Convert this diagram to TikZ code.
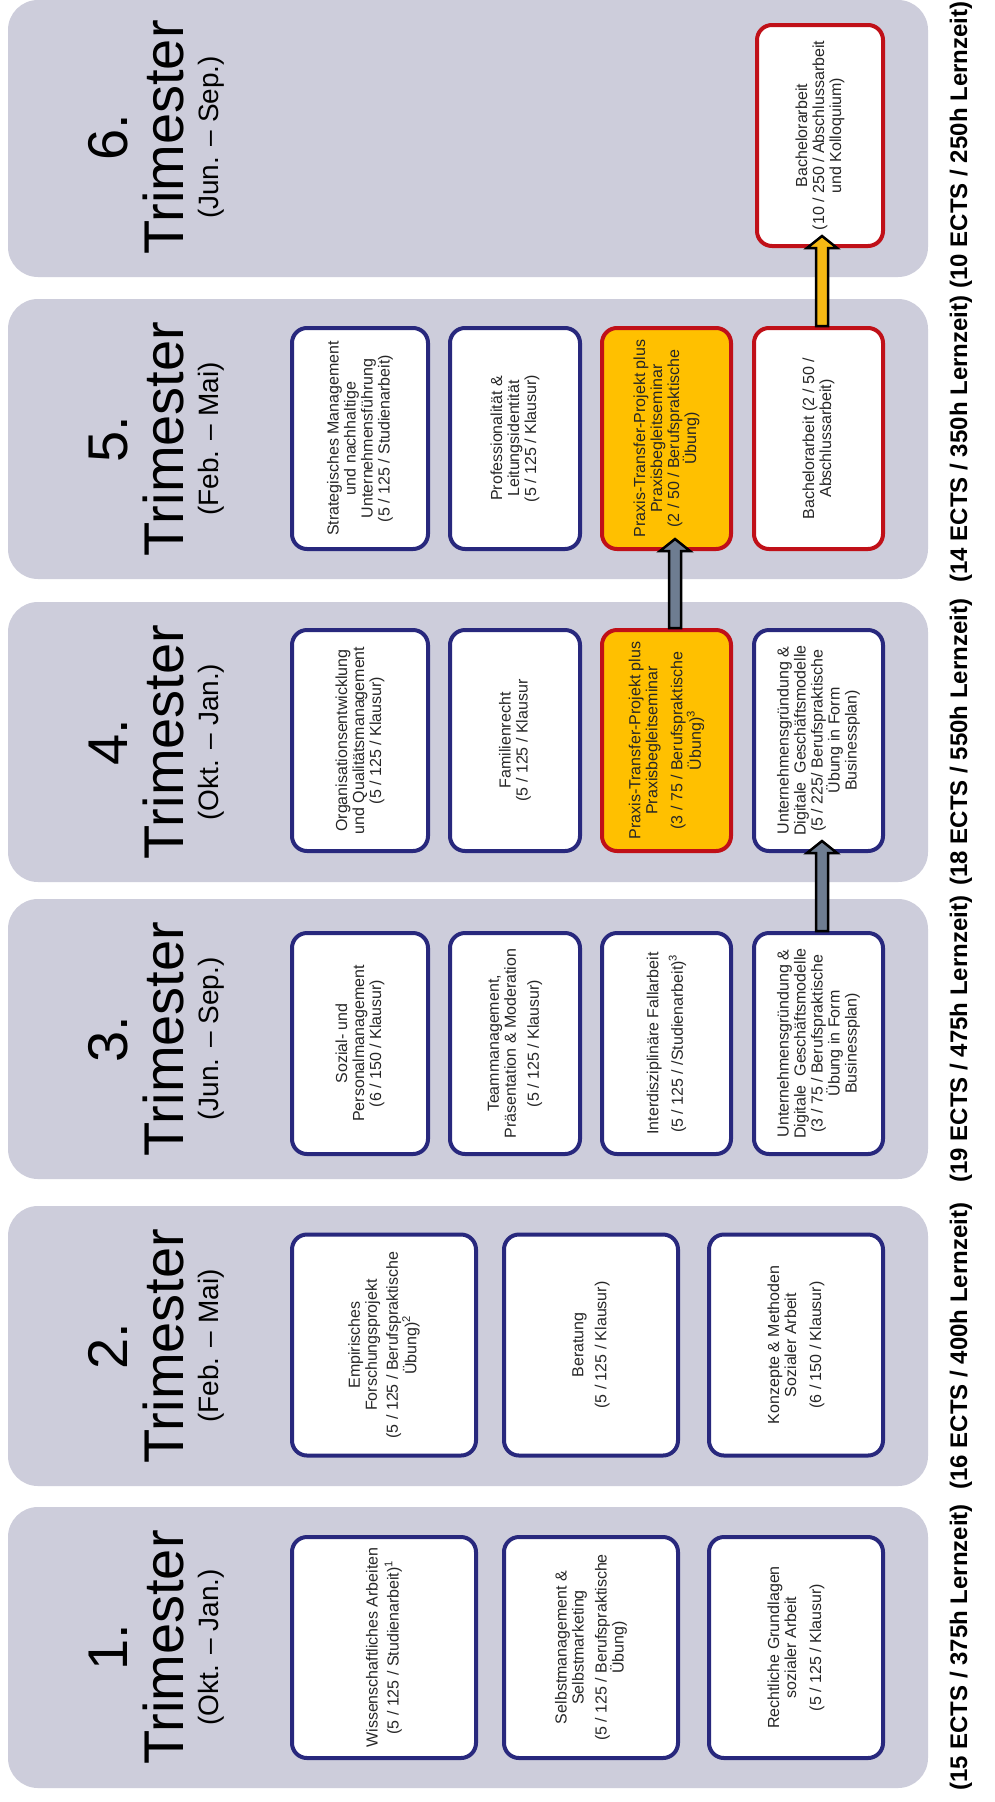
\documentclass[tikz,border=0pt]{standalone}
\usepackage{fontspec}
\setmainfont{Liberation Sans}
\usetikzlibrary{calc}
\definecolor{bandgray}{RGB}{205,205,219}
\definecolor{navy}{RGB}{40,40,125}
\definecolor{redb}{RGB}{192,16,24}
\definecolor{gold}{RGB}{255,192,0}
\definecolor{slate}{RGB}{110,125,145}
\definecolor{arrowgold}{RGB}{245,185,20}
\newcommand{\fatarrow}[4]{%
  \draw[line width=2.5pt, fill=#4, line join=miter]
    ($(#2.south |- #1.north)+(#3-6,0)$) -- ($(#2.south)+(#3-6,0)$) -- ($(#2.south)+(#3-15,0)$)
    -- ($(#2.south)+(#3,-12)$) -- ($(#2.south)+(#3+15,0)$) -- ($(#2.south)+(#3+6,0)$)
    -- ($(#2.south |- #1.north)+(#3+6,0)$) -- cycle;}
\begin{document}
\begin{tikzpicture}[x=1pt,y=-1pt,
 bandbox/.style={rectangle, fill=bandgray, rounded corners=30pt, minimum width=920pt, inner sep=0pt},
 modbox/.style={rectangle, draw=navy, line width=4pt, fill=white, rounded corners=15pt, minimum height=221pt, inner sep=0pt},
 redbox/.style={modbox, draw=redb},
 goldbox/.style={modbox, draw=redb, fill=gold},
 modtext/.style={rotate=90, align=center, font=\fontsize{16}{17}\selectfont, text=black!85, inner sep=0pt},
 numtext/.style={rotate=90, anchor=base, font=\fontsize{56}{56}\selectfont},
 datetext/.style={rotate=90, anchor=base, font=\fontsize{28}{28}\selectfont},
 ectstext/.style={rotate=90, font=\bfseries\fontsize{24}{24}\selectfont},
]
\useasboundingbox (0,0) rectangle (995,1802);
\fill[white] (0,0) rectangle (995,1802);

% ---------- bands ----------
\node[bandbox, minimum height=281pt] (band1) at (468,1647.5) {};
\node[bandbox, minimum height=280pt] (band2) at (468,1346) {};
\node[bandbox, minimum height=280pt] (band3) at (468,1039) {};
\node[bandbox, minimum height=280pt] (band4) at (468,742) {};
\node[bandbox, minimum height=280pt] (band5) at (468,439) {};
\node[bandbox, minimum height=277pt] (band6) at (468,138.5) {};

% ---------- titles ----------
\node[numtext] (n1) at (127,1647.5) {1.};
\node[numtext] (tr1) at (183,1647.5) {Trimester};
\node[datetext] (d1) at (218,1647.5) {(Okt. – Jan.)};
\node[numtext] (n2) at (127,1346) {2.};
\node[numtext] (tr2) at (183,1346) {Trimester};
\node[datetext] (d2) at (218,1346) {(Feb. – Mai)};
\node[numtext] (n3) at (127,1039) {3.};
\node[numtext] (tr3) at (183,1039) {Trimester};
\node[datetext] (d3) at (218,1039) {(Jun. – Sep.)};
\node[numtext] (n4) at (127,742) {4.};
\node[numtext] (tr4) at (183,742) {Trimester};
\node[datetext] (d4) at (218,742) {(Okt. – Jan.)};
\node[numtext] (n5) at (127,439) {5.};
\node[numtext] (tr5) at (183,439) {Trimester};
\node[datetext] (d5) at (218,439) {(Feb. – Mai)};
\node[numtext] (n6) at (127,137.5) {6.};
\node[numtext] (tr6) at (183,137.5) {Trimester};
\node[datetext] (d6) at (218,137.5) {(Jun. – Sep.)};

% ---------- ECTS ----------
\node[ectstext] (e1) at (961,1647.5) {(15 ECTS / 375h Lernzeit)};
\node[ectstext] (e2) at (961,1346) {(16 ECTS / 400h Lernzeit)};
\node[ectstext] (e3) at (961,1039) {(19 ECTS / 475h Lernzeit)};
\node[ectstext] (e4) at (961,742) {(18 ECTS / 550h Lernzeit)};
\node[ectstext] (e5) at (961,439) {(14 ECTS / 350h Lernzeit)};
\node[ectstext] (e6) at (961,145) {(10 ECTS / 250h Lernzeit)};

% ---------- trimester 1 ----------
\node[modbox, minimum width=184pt] (b11) at (384,1647.5) {};
\node[modbox, minimum width=174pt] (b12) at (591,1647.5) {};
\node[modbox, minimum width=174pt] (b13) at (796,1647.5) {};
\node[modtext] (t11) at (b11) {Wissenschaftliches Arbeiten\\[4pt](5 / 125 / Studienarbeit)\textsuperscript{1}};
\node[modtext] (t12) at (b12) {Selbstmanagement \&\\Selbstmarketing\\[6pt](5 / 125 / Berufspraktische\\Übung)};
\node[modtext] (t13) at (b13) {Rechtliche Grundlagen\\sozialer Arbeit\\[8pt](5 / 125 / Klausur)};

% ---------- trimester 2 ----------
\node[modbox, minimum width=184pt] (b21) at (384,1345) {};
\node[modbox, minimum width=174pt] (b22) at (591,1345) {};
\node[modbox, minimum width=174pt] (b23) at (796,1345) {};
\node[modtext] (t21) at (b21) {Empirisches\\Forschungsprojekt\\[4pt](5 / 125 / Berufspraktische\\Übung)\textsuperscript{2}};
\node[modtext] (t22) at (b22) {Beratung\\[6pt](5 / 125 / Klausur)};
\node[modtext] (t23) at (b23) {Konzepte \& Methoden\\Sozialer Arbeit\\[8pt](6 / 150 / Klausur)};

% ---------- trimester 3 ----------
\node[modbox, minimum width=136pt] (b31) at (360,1043.5) {};
\node[modbox, minimum width=130pt] (b32) at (515,1043.5) {};
\node[modbox, minimum width=129pt] (b33) at (666.5,1043.5) {};
\node[modbox, minimum width=129pt] (b34) at (818.5,1043.5) {};
\node[modtext] (t31) at (b31) {Sozial- und\\Personalmanagement\\(6 / 150 / Klausur)};
\node[modtext] (t32) at (b32) {Teammanagement,\\Präsentation \& Moderation\\[6pt](5 / 125 / Klausur)};
\node[modtext] (t33) at (b33) {Interdisziplinäre Fallarbeit\\[6pt](5 / 125 / /Studienarbeit)\textsuperscript{3}};
\node[modtext] (t34) at (b34) {Unternehmensgründung \&\\Digitale\ \ Geschäftsmodelle\\(3 / 75 / Berufspraktische\\Übung in Form\\Businessplan)};

% ---------- trimester 4 ----------
\node[modbox, minimum width=136pt] (b41) at (360,740.5) {};
\node[modbox, minimum width=130pt] (b42) at (515,740.5) {};
\node[goldbox, minimum width=129pt] (b43) at (666.5,740.5) {};
\node[modbox, minimum width=129pt] (b44) at (818.5,740.5) {};
\node[modtext] (t41) at (b41) {Organisationsentwicklung\\und Qualitätsmanagement\\(5 / 125 / Klausur)};
\node[modtext] (t42) at (b42) {Familienrecht\\(5 / 125 / Klausur};
\node[modtext] (t43) at (b43) {Praxis-Transfer-Projekt plus\\Praxisbegleitseminar\\[8pt](3 / 75 / Berufspraktische\\Übung)\textsuperscript{3}};
\node[modtext] (t44) at (b44) {Unternehmensgründung \&\\Digitale\ \ Geschäftsmodelle\\(5 / 225/ Berufspraktische\\Übung in Form\\Businessplan)};

% ---------- trimester 5 ----------
\node[modbox, minimum width=136pt] (b51) at (360,438.5) {};
\node[modbox, minimum width=130pt] (b52) at (515,438.5) {};
\node[goldbox, minimum width=129pt] (b53) at (666.5,438.5) {};
\node[redbox, minimum width=129pt] (b54) at (818.5,438.5) {};
\node[modtext] (t51) at (b51) {Strategisches Management\\und nachhaltige\\Unternehmensführung\\(5 / 125 / Studienarbeit)};
\node[modtext] (t52) at (b52) {Professionalität \&\\Leitungsidentität\\(5 / 125 / Klausur)};
\node[modtext] (t53) at (b53) {Praxis-Transfer-Projekt plus\\Praxisbegleitseminar\\(2 / 50 / Berufspraktische\\Übung)};
\node[modtext] (t54) at (b54) {Bachelorarbeit (2 / 50 /\\Abschlussarbeit)};

% ---------- trimester 6 ----------
\node[redbox, minimum width=126pt] (b6) at (820,135.5) {};
\node[modtext] (t6) at (b6) {Bachelorarbeit\\(10 / 250 / Abschlussarbeit\\und Kolloquium)};

% ---------- arrows ----------
\fatarrow{b34}{b44}{3.5}{slate}
\fatarrow{b43}{b53}{8.5}{slate}
\fatarrow{b54}{b6}{2}{arrowgold}
\end{tikzpicture}
\end{document}
